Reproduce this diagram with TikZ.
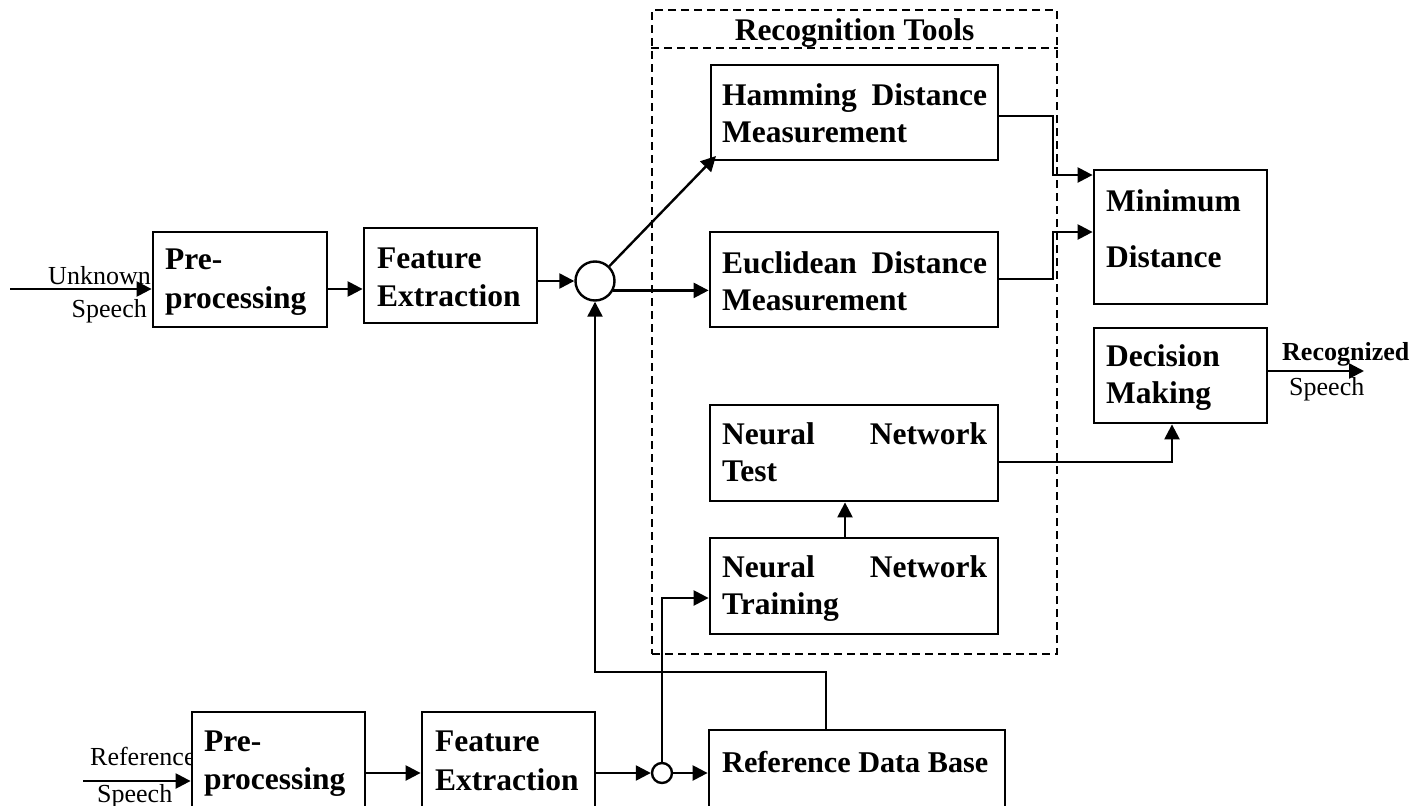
\documentclass[tikz,border=0pt]{standalone}
\usepackage{fontspec}
\setmainfont{Liberation Serif}
\usetikzlibrary{arrows.meta}
\newcommand\bigbf{\fontsize{31.5}{37}\selectfont\bfseries}
\newcommand\smallrm{\fontsize{26}{30}\selectfont}
\begin{document}
\begin{tikzpicture}[x=1pt,y=-1pt,
  blk/.style={draw, line width=2.8pt, fill=white, inner sep=0pt, minimum height=95pt},
  btxt/.style={inner sep=0pt, anchor=base west, font=\bigbf},
  lbl/.style={inner sep=0pt, font=\smallrm},
  arr/.style={line width=2.4pt, -{Triangle[length=15pt,width=15pt]}},
  dashbox/.style={draw, dashed, dash pattern=on 8pt off 5pt, line width=1.8pt},
  junc/.style={circle, draw, line width=2.4pt, fill=white, inner sep=0pt}]
\clip (0,0) rectangle (1428,806);
\fill[white] (0,0) rectangle (1428,806);

% recognition tools frame
\node[dashbox, minimum width=405pt, minimum height=644pt, inner sep=0pt] (tools) at (854.5,332) {};
\coordinate (div) at (0,48);
\draw[dashed, dash pattern=on 8pt off 5pt, line width=1.8pt] (tools.west |- div) -- (tools.east |- div);
\node[btxt, anchor=base] (toolst) at (854.5,40) {Recognition Tools};

% outer labels (drawn before boxes)
\node[lbl, anchor=base east] (unk) at (151,284) {Unknown};
\node[lbl, anchor=base east] (unks) at (147,317) {Speech};
\node[lbl, anchor=base west] (refl) at (90,765) {Reference};
\node[lbl, anchor=base west] (refs) at (97,802) {Speech};
\node[lbl, anchor=base west, font=\smallrm\bfseries] (recl) at (1282,360) {Recognized};
\node[lbl, anchor=base west] (recs) at (1289,395) {Speech};

% boxes
\node[blk, minimum width=174pt] (pre1) at (240,279.5) {};
\node[blk, minimum width=173pt] (fe1) at (450.5,275.5) {};
\node[blk, minimum width=287pt] (ham) at (854.5,112.5) {};
\node[blk, minimum width=288pt] (euc) at (854,279.5) {};
\node[blk, minimum width=288pt, minimum height=96pt] (nnt) at (854,453) {};
\node[blk, minimum width=288pt, minimum height=96pt] (nntr) at (854,586) {};
\node[blk, minimum width=173pt, minimum height=134pt] (mind) at (1180.5,237) {};
\node[blk, minimum width=173pt] (dec) at (1180.5,375.5) {};
\node[blk, minimum width=173pt, minimum height=96pt] (pre2) at (278.5,760) {};
\node[blk, minimum width=173pt, minimum height=96pt] (fe2) at (508.5,760) {};
\node[blk, minimum width=296pt, minimum height=96pt] (rdb) at (857,778) {};

% junctions
\node[junc, minimum size=39pt] (c1) at (595,281) {};
\node[junc, minimum size=20pt] (c2) at (662,773) {};

% box texts
\node[btxt, font=\fontsize{31.5}{39}\selectfont\bfseries] (pre1t) at (165,269) {\parbox[t]{150pt}{Pre-\\processing}};
\node[btxt, font=\fontsize{31.5}{38}\selectfont\bfseries] (fe1t) at (377,268) {\parbox[t]{150pt}{Feature\\Extraction}};
\node[btxt] (hamt) at (722,105) {\parbox[t]{265pt}{\makebox[265pt][s]{Hamming Distance}\\Measurement}};
\node[btxt] (euct) at (722,273) {\parbox[t]{265pt}{\makebox[265pt][s]{Euclidean Distance}\\Measurement}};
\node[btxt] (nntt) at (722,444) {\parbox[t]{265pt}{\makebox[265pt][s]{Neural Network}\\Test}};
\node[btxt] (nntrt) at (722,577) {\parbox[t]{265pt}{\makebox[265pt][s]{Neural Network}\\Training}};
\node[btxt, font=\fontsize{31.5}{56}\selectfont\bfseries] (mindt) at (1106,211) {\parbox[t]{150pt}{Minimum\\Distance}};
\node[btxt] (dect) at (1106,366) {\parbox[t]{150pt}{Decision\\Making}};
\node[btxt, font=\fontsize{31.5}{38}\selectfont\bfseries] (pre2t) at (204,751) {\parbox[t]{150pt}{Pre-\\processing}};
\node[btxt, font=\fontsize{31.5}{39}\selectfont\bfseries] (fe2t) at (435,751) {\parbox[t]{150pt}{Feature\\Extraction}};
\node[btxt, font=\fontsize{30.2}{36}\selectfont\bfseries] (rdbt) at (722,772) {Reference Data Base};

% coordinates
\coordinate (in1) at (10,289);
\coordinate (hamtip) at (716,156);
\coordinate (fbx) at (826,672);
\coordinate (trin) at (662,598);
\coordinate (nnx) at (845,520);
\coordinate (j1) at (1053,116);
\coordinate (m1) at (1094,175);
\coordinate (j2) at (1053,279);
\coordinate (m2) at (1094,232);
\coordinate (j3) at (1172,462);
\coordinate (out) at (1364,371);
\coordinate (in2) at (83,781);

% connectors, top row
\draw[arr] (in1) -- (in1 -| pre1.west);
\draw[arr] (pre1.east |- in1) -- (fe1.west |- in1);
\draw[arr] (fe1.east |- c1) -- (c1.west);
\draw[arr] (c1) -- (hamtip);
\draw[arr] (c1.-27.5) -- (c1.-27.5 -| euc.west);
\draw[arr] (rdb.north -| fbx) -- (fbx) -- (fbx -| c1) -- (c1.south);
\draw[arr] (ham.east |- j1) -- (j1) -- (j1 |- m1) -- (m1 -| mind.west);
\draw[arr] (euc.east |- j2) -- (j2) -- (j2 |- m2) -- (m2 -| mind.west);
\draw[arr] (nntr.north -| nnx) -- (nnt.south -| nnx);
\draw[arr] (nnt.east |- j3) -- (j3) -- (j3 |- dec.south);
\draw[arr] (dec.east |- out) -- (out);

% connectors, bottom row
\draw[arr] (in2) -- (in2 -| pre2.west);
\draw[arr] (pre2.east |- c2) -- (fe2.west |- c2);
\draw[arr] (fe2.east |- c2) -- (c2.west);
\draw[arr] (c2.east) -- (c2 -| rdb.west);
\draw[arr] (c2.north) -- (trin) -- (trin -| nntr.west);
\end{tikzpicture}
\end{document}
